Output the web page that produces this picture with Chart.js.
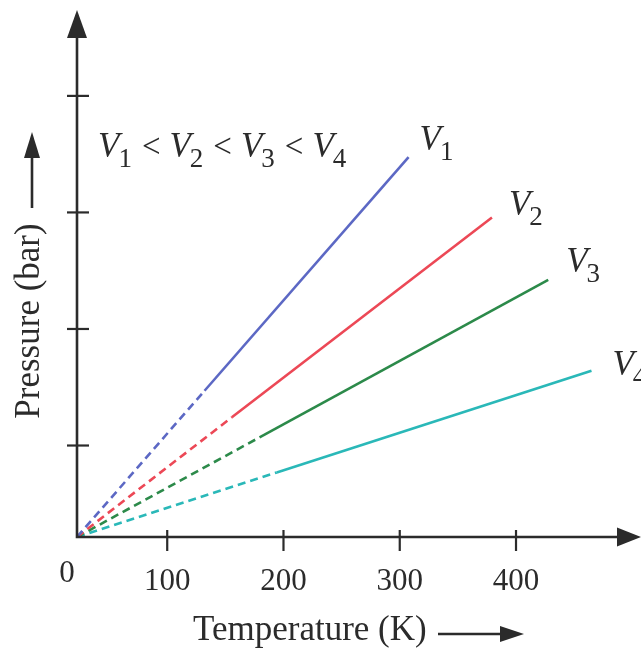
<!DOCTYPE html>
<html>
<head>
<meta charset="utf-8">
<title>Pressure vs Temperature</title>
<script src="https://cdn.jsdelivr.net/npm/chart.js@4.4.1/dist/chart.umd.min.js"></script>
<style>
    html, body { margin: 0; padding: 0; background: #ffffff; }
    #wrap { width: 641px; height: 651px; position: relative; }
</style>
</head>
<body>
<div id="wrap"><canvas id="isochores"></canvas></div>
<script>
// Axis range (the corner of the axes is labelled 0)
const tempMin = 22.4;
const tempMax = 507.5;
const presMin = 21.5;
const presMax = 473.7;
const tickValues = [100, 200, 300, 400];
const tickLabels = ['100', '200', '300', '400'];

// Each isochore: origin, end of dashed part, end of solid part
const seriesNames = ['1', '2', '3', '4'];
const v1Temp = [22.4, 132.1, 307.6];
const v1Pres = [21.5, 147.0, 347.5];
const v2Temp = [22.4, 155.6, 379.3];
const v2Pres = [21.5, 124.2, 295.6];
const v3Temp = [22.4, 179.4, 427.7];
const v3Pres = [21.5, 107.0, 242.1];
const v4Temp = [22.4, 194.2, 464.9];
const v4Pres = [21.5, 76.9, 164.2];

const lineColors = ['rgb(92,104,196)', 'rgb(236,72,86)', 'rgb(44,138,74)', 'rgb(42,184,184)'];
// where the V labels sit relative to the line ends (pixels)
const labelOffsets = [[11, -7], [17, -3], [18, -8], [21, 4]];

const serif = '"Liberation Serif", "Times New Roman", serif';
const ink = '#2b2b2b';

function toPoints(temps, pres) {
    return temps.map((t, i) => ({ x: t, y: pres[i] }));
}

const allTemps = [v1Temp, v2Temp, v3Temp, v4Temp];
const allPres = [v1Pres, v2Pres, v3Pres, v4Pres];

const datasets = allTemps.map((temps, i) => ({
    label: 'V' + seriesNames[i],
    data: toPoints(temps, allPres[i]),
    borderColor: lineColors[i],
    borderWidth: 2.6,
    pointRadius: 0,
    tension: 0,
    segment: {
        // first stretch (towards 0 K) is an extrapolation -> dashed
        borderDash: ctx => ctx.p0DataIndex === 0 ? [8, 5] : undefined
    }
}));

// draws V with a subscript, returns the x after it
function drawV(ctx, x, y, sub, size) {
    ctx.font = 'italic ' + size + 'px ' + serif;
    ctx.fillText('V', x, y);
    x += ctx.measureText('V').width - 1;
    ctx.font = Math.round(size * 0.78) + 'px ' + serif;
    ctx.fillText(sub, x, y + 10);
    return x + ctx.measureText(sub).width;
}

const axesPlugin = {
    id: 'bookAxes',
    afterDraw(chart) {
        const ctx = chart.ctx;
        const xs = chart.scales.x;
        const ys = chart.scales.y;
        const left = xs.getPixelForValue(tempMin);
        const bottom = ys.getPixelForValue(presMin);
        const right = xs.getPixelForValue(tempMax);
        const top = ys.getPixelForValue(presMax);

        ctx.save();
        ctx.strokeStyle = ink;
        ctx.fillStyle = ink;
        ctx.lineWidth = 2.6;

        // axis lines
        ctx.beginPath();
        ctx.moveTo(left, top + 20);
        ctx.lineTo(left, bottom);
        ctx.lineTo(right - 20, bottom);
        ctx.stroke();

        // arrow heads
        ctx.beginPath();
        ctx.moveTo(left, top);
        ctx.lineTo(left - 10, top + 28);
        ctx.lineTo(left + 10, top + 28);
        ctx.closePath();
        ctx.fill();
        ctx.beginPath();
        ctx.moveTo(right, bottom);
        ctx.lineTo(right - 24, bottom - 9.5);
        ctx.lineTo(right - 24, bottom + 9.5);
        ctx.closePath();
        ctx.fill();

        // tick marks crossing the axes
        ctx.lineWidth = 2.2;
        tickValues.forEach(v => {
            const px = xs.getPixelForValue(v);
            ctx.beginPath();
            ctx.moveTo(px, bottom - 7);
            ctx.lineTo(px, bottom + 14);
            ctx.stroke();
            const py = ys.getPixelForValue(v);
            ctx.beginPath();
            ctx.moveTo(left - 10, py);
            ctx.lineTo(left + 12, py);
            ctx.stroke();
        });

        // tick labels
        ctx.font = '31px ' + serif;
        ctx.textAlign = 'center';
        ctx.textBaseline = 'alphabetic';
        tickValues.forEach((v, i) => {
            ctx.fillText(tickLabels[i], xs.getPixelForValue(v), bottom + 53);
        });
        ctx.fillText('0', left - 10, bottom + 45);

        // x title with arrow
        ctx.font = '35px ' + serif;
        ctx.textAlign = 'left';
        ctx.fillText('Temperature (K)', 193, 640);
        ctx.lineWidth = 2.6;
        ctx.beginPath();
        ctx.moveTo(438, 634);
        ctx.lineTo(506, 634);
        ctx.stroke();
        ctx.beginPath();
        ctx.moveTo(524, 634);
        ctx.lineTo(500, 626);
        ctx.lineTo(500, 642);
        ctx.closePath();
        ctx.fill();

        // y title with arrow
        ctx.save();
        ctx.translate(39, 321);
        ctx.rotate(-Math.PI / 2);
        ctx.textAlign = 'center';
        ctx.fillText('Pressure (bar)', 0, 0);
        ctx.restore();
        ctx.beginPath();
        ctx.moveTo(32, 208);
        ctx.lineTo(32, 150);
        ctx.stroke();
        ctx.beginPath();
        ctx.moveTo(32, 132);
        ctx.lineTo(24, 158);
        ctx.lineTo(40, 158);
        ctx.closePath();
        ctx.fill();

        // V1 < V2 < V3 < V4
        ctx.textAlign = 'left';
        let x = 98;
        seriesNames.forEach((n, i) => {
            x = drawV(ctx, x, 157, n, 35);
            if (i < seriesNames.length - 1) {
                ctx.font = '33px ' + serif;
                ctx.fillText('<', x + 10, 157);
                x += 10 + ctx.measureText('<').width + 9;
            }
        });

        // labels at the end of each line
        chart.data.datasets.forEach((ds, i) => {
            const last = ds.data[ds.data.length - 1];
            const px = xs.getPixelForValue(last.x) + labelOffsets[i][0];
            const py = ys.getPixelForValue(last.y) + labelOffsets[i][1];
            drawV(ctx, px, py, seriesNames[i], 35);
        });

        ctx.restore();
    }
};

const ctx = document.getElementById('isochores').getContext('2d');
new Chart(ctx, {
    type: 'line',
    data: { datasets: datasets },
    options: {
        responsive: true,
        maintainAspectRatio: false,
        animation: false,
        layout: { padding: { left: 77, right: 0, top: 10, bottom: 114 } },
        plugins: {
            legend: { display: false },
            tooltip: { enabled: false }
        },
        scales: {
            x: { type: 'linear', min: tempMin, max: tempMax, display: false },
            y: { type: 'linear', min: presMin, max: presMax, display: false }
        }
    },
    plugins: [axesPlugin]
});
</script>
</body>
</html>
